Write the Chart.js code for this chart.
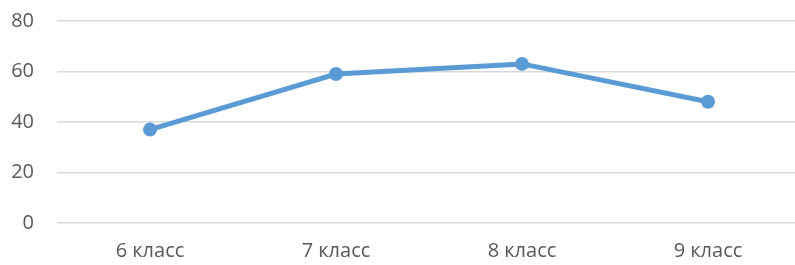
<!DOCTYPE html>
<html>
<head>
<meta charset="utf-8">
<script src="https://cdn.jsdelivr.net/npm/chart.js@4/dist/chart.umd.min.js"></script>
<style>
  html, body { margin: 0; padding: 0; background: #fff; overflow: hidden; }
  #chart1 { display: block; margin-top: -14px; }
</style>
</head>
<body>
<canvas id="chart1" width="808" height="279"></canvas>
<script>
// categories and values
const labels = ['6 класс', '7 класс', '8 класс', '9 класс'];
const values = [37, 59, 63, 48];
const yTicks = [0, 20, 40, 60, 80];

const data = {
  labels: labels,
  datasets: [{
    data: values,
    borderColor: '#5B9BD5',
    backgroundColor: '#5B9BD5',
    borderWidth: 5,
    pointRadius: 7,
    pointHoverRadius: 7,
    pointBorderWidth: 0,
    tension: 0
  }]
};

const config = {
  type: 'line',
  data: data,
  options: {
    responsive: false,
    animation: false,
    layout: { padding: { left: 0, right: 0, top: 6, bottom: 0 } },
    plugins: { legend: { display: false }, tooltip: { enabled: false } },
    scales: {
      x: {
        offset: true,
        grid: { display: false, drawTicks: false },
        border: { display: false },
        ticks: {
          color: '#595959',
          font: { family: 'Open Sans', size: 20 },
          padding: 16,
          maxRotation: 0
        },
        afterFit: function(axis) { axis.height = 42; }
      },
      y: {
        min: yTicks[0],
        max: yTicks[yTicks.length - 1],
        afterBuildTicks: function(axis) {
          axis.ticks = yTicks.map(v => ({ value: v }));
        },
        grid: { color: '#D9D9D9', lineWidth: 1.5, drawTicks: false },
        border: { display: false },
        ticks: {
          color: '#595959',
          font: { family: 'Open Sans', size: 20 },
          padding: 23
        },
        afterFit: function(axis) { axis.width = 57; }
      }
    }
  }
};

const myChart = new Chart(document.getElementById('chart1'), config);
</script>
</body>
</html>
